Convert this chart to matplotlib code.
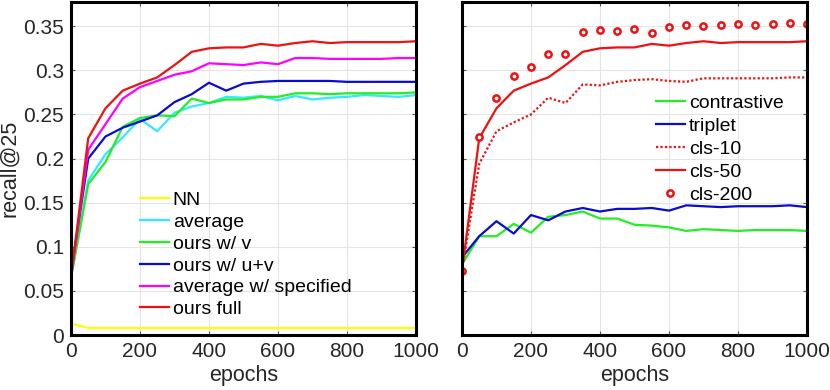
import numpy as np
import matplotlib.pyplot as plt
from matplotlib.ticker import FuncFormatter

plt.rcParams['font.family'] = ['Liberation Sans', 'DejaVu Sans']

epochs = list(range(0, 1001, 50))

# left panel
nn = [0.013] + [0.008] * 20
average = [0.065, 0.175, 0.205, 0.224, 0.245, 0.231, 0.252, 0.259, 0.263, 0.270, 0.269,
           0.271, 0.266, 0.271, 0.267, 0.269, 0.270, 0.272, 0.271, 0.270, 0.272]
ours_v = [0.065, 0.171, 0.196, 0.236, 0.246, 0.249, 0.248, 0.268, 0.263, 0.267, 0.267,
          0.270, 0.270, 0.274, 0.274, 0.273, 0.274, 0.274, 0.274, 0.274, 0.275]
ours_uv = [0.070, 0.200, 0.225, 0.235, 0.242, 0.249, 0.264, 0.273, 0.286, 0.277, 0.285,
           0.287, 0.288, 0.288, 0.288, 0.288, 0.287, 0.287, 0.287, 0.287, 0.287]
avg_spec = [0.065, 0.210, 0.239, 0.268, 0.281, 0.288, 0.295, 0.299, 0.308, 0.307, 0.306,
            0.309, 0.307, 0.314, 0.314, 0.313, 0.313, 0.313, 0.313, 0.314, 0.314]
ours_full = [0.065, 0.223, 0.257, 0.277, 0.285, 0.292, 0.306, 0.321, 0.325, 0.326, 0.326,
             0.330, 0.328, 0.331, 0.333, 0.331, 0.332, 0.332, 0.332, 0.332, 0.333]

# right panel
contrastive = [0.080, 0.112, 0.112, 0.126, 0.116, 0.134, 0.136, 0.140, 0.132, 0.132, 0.125,
               0.124, 0.122, 0.118, 0.120, 0.119, 0.118, 0.119, 0.119, 0.119, 0.118]
triplet = [0.088, 0.112, 0.129, 0.115, 0.136, 0.130, 0.140, 0.144, 0.140, 0.143, 0.143,
           0.144, 0.141, 0.147, 0.146, 0.145, 0.146, 0.146, 0.146, 0.147, 0.145]
cls10 = [0.073, 0.194, 0.231, 0.241, 0.250, 0.269, 0.263, 0.284, 0.283, 0.287, 0.289,
         0.290, 0.288, 0.287, 0.291, 0.291, 0.291, 0.291, 0.291, 0.292, 0.292]
cls50 = [0.073, 0.223, 0.257, 0.277, 0.285, 0.292, 0.306, 0.321, 0.325, 0.326, 0.326,
         0.330, 0.328, 0.331, 0.333, 0.331, 0.332, 0.332, 0.332, 0.332, 0.333]
cls200 = [0.073, 0.225, 0.269, 0.294, 0.304, 0.318, 0.319, 0.343, 0.346, 0.345, 0.347,
          0.342, 0.349, 0.351, 0.350, 0.351, 0.353, 0.351, 0.353, 0.354, 0.353]

fig = plt.figure(figsize=(8.3, 3.9), dpi=100)
ax1 = fig.add_axes([0.0855, 0.141, 0.4157, 0.855])
ax2 = fig.add_axes([0.5566, 0.141, 0.4157, 0.855])

lw = 1.6
ax1.plot(epochs, nn, color='#ffff00', lw=lw, label='NN')
ax1.plot(epochs, average, color='#33e8ff', lw=lw, label='average')
ax1.plot(epochs, ours_v, color='#22ee22', lw=lw, label='ours w/ v')
ax1.plot(epochs, ours_uv, color='#0a0ad0', lw=lw, label='ours w/ u+v')
ax1.plot(epochs, avg_spec, color='#ff00ff', lw=lw, label='average w/ specified')
ax1.plot(epochs, ours_full, color='#ee1111', lw=lw, label='ours full')

ax2.plot(epochs, contrastive, color='#22ee22', lw=lw, label='contrastive')
ax2.plot(epochs, triplet, color='#0a0ad0', lw=lw, label='triplet')
ax2.plot(epochs, cls10, color='#ee1111', lw=lw, ls=(0, (1, 1)), label='cls-10')
ax2.plot(epochs, cls50, color='#ee1111', lw=lw, label='cls-50')
ax2.plot(epochs, cls200, color='#ee1111', lw=0, marker='o', ms=4.5, mfc='white',
         mew=1.8, label='cls-200')

fmt = FuncFormatter(lambda v, p: '%g' % round(v, 3))
for ax in (ax1, ax2):
    ax.set_xlim(0, 1000)
    ax.set_ylim(0, 0.378)
    ax.set_xticks([0, 200, 400, 600, 800, 1000])
    ax.set_yticks(np.arange(0, 0.351, 0.05))
    ax.yaxis.set_major_formatter(fmt)
    ax.grid(True, color='#e4e4e4', lw=0.8)
    ax.set_axisbelow(True)
    ax.tick_params(direction='in', top=True, right=True, length=3, color='#555555',
                   labelsize=15, labelcolor='#262626', pad=5)
    for s in ax.spines.values():
        s.set_linewidth(2.2)
        s.set_color('black')
    ax.set_xlabel('epochs', fontsize=15.5, color='#262626', labelpad=3)

ax1.set_ylabel('recall@25', fontsize=15.5, color='#262626', labelpad=2)
ax2.tick_params(labelleft=False)

ax1.legend(loc='lower left', bbox_to_anchor=(0.171, 0.021), frameon=False, fontsize=14,
           handlelength=1.5, handletextpad=0.2, labelspacing=0.217, borderpad=0)
ax2.legend(loc='lower left', bbox_to_anchor=(0.533, 0.363), frameon=False, fontsize=14,
           handlelength=1.5, handletextpad=0.2, labelspacing=0.28, borderpad=0)

fig.savefig('out.png', dpi=100)
